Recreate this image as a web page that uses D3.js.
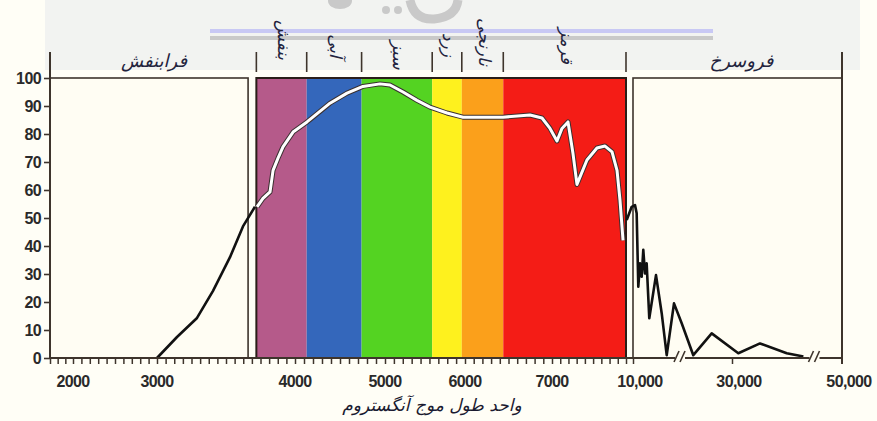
<!DOCTYPE html>
<html>
<head>
<meta charset="utf-8" />
<title>طیف</title>
<style>
    body { margin: 0; background: #fffef6; }
    svg { display: block; }
</style>
</head>
<body>
<div id="container"></div>
<script src="https://cdn.jsdelivr.net/npm/d3@7"></script>
<script>
    const width = 877
    const height = 421

    // wavelength breakpoints of the broken x axis (angstrom)
    const xBreaks = [1730, 2000, 3000, 4000, 5000, 6000, 7000, 7800, 10000, 30000, 50000]
    const xTickLabels = [2000, 3000, 4000, 5000, 6000, 7000, 10000, 30000, 50000]
    const yTicks = [0, 10, 20, 30, 40, 50, 60, 70, 80, 90, 100]

    const uvName = 'فرابنفش'
    const irName = 'فروسرخ'
    const uvRange = [1730, 3660]
    const irRange = [10000, 50000]
    const bandNames = ['بنفش', 'آبی', 'سبز', 'زرد', 'نارنجی', 'قرمز']
    const bandEdges = [3720, 4130, 4740, 5590, 5960, 6440, 7800]
    const bandColors = ['#b55a8a', '#3467bb', '#54d322', '#fef11e', '#fba01b', '#f41c16']
    const axisBreaks = [19500, 45000]
    const xTitle = 'واحد طول موج آنگستروم'

    // [wavelength, percent]
    const uvCurve = [[3000, 0], [3145, 7.5], [3290, 14.3], [3406, 24], [3529, 36], [3623, 47], [3710, 54]]
    const visCurve = [[3725, 54], [3768, 57], [3819, 59.3], [3841, 67], [3877, 71.4], [3913, 75.4],
        [3986, 80.7], [4133, 84.3], [4389, 91], [4578, 94.6], [4755, 97], [4944, 97.9], [5062, 97.5],
        [5225, 95], [5400, 92], [5562, 89.6], [5775, 87.5], [5975, 86], [6207, 86], [6437, 86],
        [6747, 86.8], [6885, 85.7], [6977, 82], [7054, 77.5], [7108, 82], [7173, 84.3], [7227, 73],
        [7270, 62], [7378, 70.7], [7486, 75], [7573, 75.7], [7649, 73.6], [7703, 67], [7735, 56.4],
        [7768, 42]]
    const irCurve = [[8020, 49.3], [9590, 54], [10404, 54.6], [10740, 51.7], [11070, 25.5], [11414, 33.8],
        [11750, 29], [12080, 38.6], [12424, 30.2], [12760, 33.8], [13290, 14.2], [14646, 29.6],
        [15797, 16], [16807, 1], [18282, 19.5], [19837, 12.4], [22180, 1], [25897, 8.8],
        [31147, 1.7], [35096, 5.2], [39955, 1.7], [42978, 0.5]]

    const ink = '#3e342c'
    const cream = '#fffdf3'

    const svg = d3.select('#container').append('svg').attr('width', width).attr('height', height)
    svg.append('rect').attr('width', width).attr('height', height).attr('fill', '#fffef6')

    // grey strip at the top of the scan, with the bottom of a watermark showing
    svg.append('rect').attr('x', 45).attr('y', 0).attr('width', 815).attr('height', 70).attr('fill', '#f2f3f1')
    const wm = svg.append('g').attr('fill', '#c9c9c9').attr('stroke', '#c9c9c9')
    wm.append('ellipse').attr('cx', 340).attr('cy', 1).attr('rx', 12).attr('ry', 8).attr('stroke', 'none')
    wm.append('circle').attr('cx', 386).attr('cy', 10).attr('r', 4).attr('stroke', 'none')
    wm.append('circle').attr('cx', 398).attr('cy', 10).attr('r', 4).attr('stroke', 'none')
    wm.append('path').attr('d', 'M410,0 Q414,20 434,19 Q456,17 458,0').attr('fill', 'none').attr('stroke-width', 9)
    svg.append('rect').attr('x', 210).attr('y', 29).attr('width', 503).attr('height', 4).attr('fill', '#c8c8f4')
    svg.append('rect').attr('x', 210).attr('y', 36).attr('width', 503).attr('height', 4).attr('fill', '#c9c9c9')

    const xScale = d3.scaleLinear().domain(xBreaks).range([50, 73, 157, 295, 385, 465, 552, 626, 633, 732, 842])
    const yScale = d3.scaleLinear().domain([0, 100]).range([358, 78])

    // panels
    svg.append('rect').attr('x', xScale(uvRange[0])).attr('y', yScale(100))
        .attr('width', xScale(uvRange[1]) - xScale(uvRange[0])).attr('height', yScale(0) - yScale(100))
        .attr('fill', cream).attr('stroke', ink).attr('stroke-width', 1.6)
    svg.append('rect').attr('x', xScale(irRange[0])).attr('y', yScale(100))
        .attr('width', xScale(irRange[1]) - xScale(irRange[0])).attr('height', yScale(0) - yScale(100))
        .attr('fill', cream).attr('stroke', ink).attr('stroke-width', 1.6)

    svg.append('g').selectAll('rect').data(bandColors).join('rect')
        .attr('x', (d, i) => xScale(bandEdges[i]))
        .attr('y', yScale(100))
        .attr('width', (d, i) => xScale(bandEdges[i + 1]) - xScale(bandEdges[i]))
        .attr('height', yScale(0) - yScale(100))
        .attr('fill', d => d)
    svg.append('rect').attr('x', xScale(bandEdges[0])).attr('y', yScale(100))
        .attr('width', xScale(bandEdges[6]) - xScale(bandEdges[0])).attr('height', yScale(0) - yScale(100))
        .attr('fill', 'none').attr('stroke', '#2a1e18').attr('stroke-width', 2)

    // small separators above the bands
    svg.append('g').selectAll('line').data(bandEdges).join('line')
        .attr('x1', d => xScale(d)).attr('x2', d => xScale(d))
        .attr('y1', 52).attr('y2', 72)
        .attr('stroke', ink).attr('stroke-width', 1.6)

    // region labels
    const faFont = 'DejaVu Sans'
    svg.append('text').attr('x', (xScale(uvRange[0]) + xScale(uvRange[1])) / 2 + 5).attr('y', 67)
        .attr('text-anchor', 'middle').style('font-family', faFont).style('font-size', '18px')
        .style('font-style', 'italic').attr('fill', '#23233d').text(uvName)
    svg.append('text').attr('x', (xScale(irRange[0]) + xScale(irRange[1])) / 2 + 4).attr('y', 67)
        .attr('text-anchor', 'middle').style('font-family', faFont).style('font-size', '18px')
        .style('font-style', 'italic').attr('fill', '#23233d').text(irName)

    const bandLabelY = [40, 46, 55, 45, 42, 46]
    svg.append('g').selectAll('text').data(bandNames).join('text')
        .attr('transform', (d, i) => `translate(${(xScale(bandEdges[i]) + xScale(bandEdges[i + 1])) / 2 + 2},${bandLabelY[i]}) rotate(90)`)
        .attr('text-anchor', 'middle')
        .attr('dominant-baseline', 'central')
        .style('font-family', faFont).style('font-size', '17px').style('font-style', 'italic')
        .attr('fill', '#23233d')
        .text(d => d)

    // curves
    const line = d3.line().x(d => xScale(d[0])).y(d => yScale(d[1]))
    svg.append('path').datum(uvCurve).attr('d', line).attr('fill', 'none')
        .attr('stroke', '#111').attr('stroke-width', 2.6).attr('stroke-linejoin', 'round')
    svg.append('path').datum(visCurve).attr('d', line).attr('fill', 'none')
        .attr('stroke', '#3a3030').attr('stroke-width', 5).attr('stroke-linejoin', 'round')
    svg.append('path').datum(visCurve).attr('d', line).attr('fill', 'none')
        .attr('stroke', '#ffffff').attr('stroke-width', 3).attr('stroke-linejoin', 'round')
    svg.append('path').datum(irCurve).attr('d', line).attr('fill', 'none')
        .attr('stroke', '#111').attr('stroke-width', 2.6).attr('stroke-linejoin', 'round')

    // y axis
    const yAxis = d3.axisLeft(yScale).tickValues(yTicks).tickSize(6).tickPadding(3)
    const yG = svg.append('g').attr('transform', `translate(${xScale(xBreaks[0])},0)`).call(yAxis)
    yG.select('.domain').remove()
    yG.selectAll('line').attr('stroke', ink).attr('stroke-width', 1.6)
    yG.selectAll('text').style('font-family', 'Liberation Sans').style('font-size', '16px')
        .style('font-weight', 'bold').style('letter-spacing', '-0.6px').attr('fill', '#2a2a2a')
    svg.append('line').attr('x1', xScale(xBreaks[0])).attr('x2', xScale(xBreaks[0]))
        .attr('y1', 52).attr('y2', yScale(0)).attr('stroke', ink).attr('stroke-width', 2)
    svg.append('line').attr('x1', xScale(irRange[1])).attr('x2', xScale(irRange[1]))
        .attr('y1', 52).attr('y2', yScale(0) + 6).attr('stroke', ink).attr('stroke-width', 2)

    // x axis: dense minor ticks through the UV and visible parts
    const minorTicks = []
    for (let i = 0; i < 7; i++) {
        const d0 = xBreaks[i], d1 = xBreaks[i + 1]
        const n = Math.round((xScale(d1) - xScale(d0)) / 8.6)
        for (let k = 0; k < n; k++) minorTicks.push(d0 + k * (d1 - d0) / n)
    }
    minorTicks.push(7800, 10000, 30000)
    const xAxis = d3.axisBottom(xScale).tickValues(minorTicks).tickSize(6).tickFormat('')
    const xG = svg.append('g').attr('transform', `translate(0,${yScale(0)})`).call(xAxis)
    xG.select('.domain').remove()
    xG.selectAll('line').attr('stroke', ink).attr('stroke-width', 1.5)
    svg.append('line').attr('x1', xScale(xBreaks[0])).attr('x2', xScale(irRange[1]))
        .attr('y1', yScale(0)).attr('y2', yScale(0)).attr('stroke', ink).attr('stroke-width', 2)

    // axis break marks
    const brk = svg.append('g').selectAll('g').data(axisBreaks).join('g')
        .attr('transform', d => `translate(${xScale(d)},${yScale(0)})`)
    brk.append('rect').attr('x', -5).attr('y', -3).attr('width', 10).attr('height', 6).attr('fill', cream)
    brk.append('line').attr('x1', -6).attr('y1', 4).attr('x2', -1).attr('y2', -7).attr('stroke', ink).attr('stroke-width', 1.6)
    brk.append('line').attr('x1', 0).attr('y1', 4).attr('x2', 5).attr('y2', -7).attr('stroke', ink).attr('stroke-width', 1.6)

    svg.append('g').selectAll('text').data(xTickLabels).join('text')
        .attr('x', d => xScale(d) + (d >= 10000 ? 7 : 0))
        .attr('y', 387)
        .attr('text-anchor', 'middle')
        .style('font-family', 'Liberation Sans').style('font-size', '16px')
        .style('font-weight', 'bold').style('letter-spacing', '-0.6px')
        .attr('fill', '#2a2a2a')
        .text(d => d >= 10000 ? d3.format(',')(d) : d)

    svg.append('text').attr('x', 432).attr('y', 411).attr('text-anchor', 'middle')
        .style('font-family', faFont).style('font-size', '17px').style('font-style', 'italic')
        .attr('fill', '#1a1a30').text(xTitle)
</script>
</body>
</html>
